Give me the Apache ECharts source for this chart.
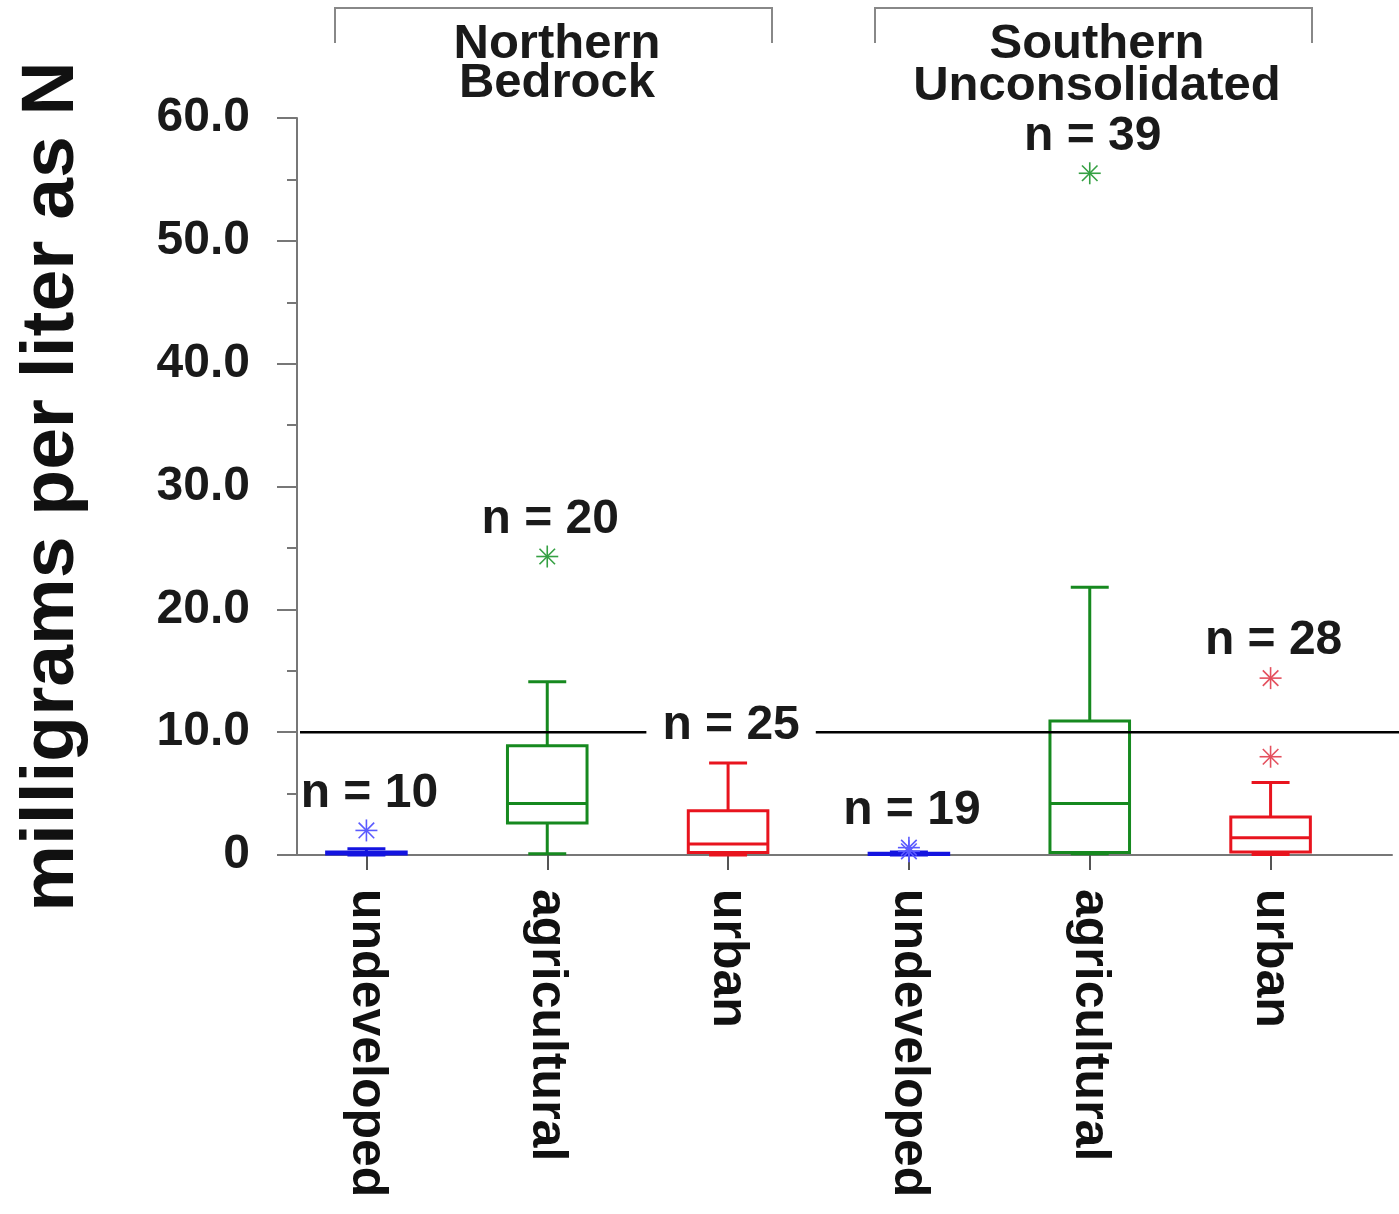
<!DOCTYPE html>
<html><head><meta charset="utf-8">
<script src="https://cdn.jsdelivr.net/npm/echarts@6/dist/echarts.min.js"></script>
<style>html,body{margin:0;padding:0;background:#fff}#c{width:1399px;height:1214px}</style>
</head><body><div id="c"></div>
<script>
// ---- data ----
const categories = ['undeveloped','agricultural','urban','undeveloped','agricultural','urban'];
const groupTitles = ['Northern\nBedrock','Southern\nUnconsolidated'];
const sampleCounts = [10, 20, 25, 19, 39, 28];
// [low whisker, Q1, median, Q3, high whisker]
const boxStats = [
  [0.0, 0.08, 0.15, 0.25, 0.5],
  [0.1, 2.6, 4.2, 8.9, 14.1],
  [0.0, 0.2, 0.9, 3.6, 7.5],
  [0.0, 0.05, 0.08, 0.15, 0.25],
  [0.1, 0.2, 4.2, 10.9, 21.8],
  [0.05, 0.25, 1.4, 3.1, 5.9]
];
// [category index, value]
const outliers = [[0, 2.0], [1, 24.3], [3, 0.3], [3, 0.6], [4, 55.5], [5, 8.0], [5, 14.4]];
const yTickValues = [0, 10, 20, 30, 40, 50, 60];
const referenceLevel = 10;

// ---- styles ----
const FONT = '"Liberation Sans", Arial, sans-serif';
const boxColors = ['#1414e0', '#16891f', '#e8141e'];
const starColors = ['#5a5aff', '#35a043', '#e4505e'];
const TOP = 118, BOTTOM = 1214 - 855;

const chart = echarts.init(document.getElementById('c'), null, {renderer: 'canvas'});

function topValue(i) {
  let t = boxStats[i][4];
  outliers.forEach(o => { if (o[0] === i && o[1] > t) t = o[1]; });
  return t;
}

const option = {
  backgroundColor: '#fff',
  animation: false,
  grid: [
    {left: 276, right: 38, top: TOP, bottom: BOTTOM},   // data grid
    {left: 297, right: 7, top: TOP, bottom: BOTTOM},    // frame grid
    {left: 300, right: 0, top: TOP, bottom: BOTTOM}     // reference line grid
  ],
  xAxis: [
    {
      gridIndex: 0, type: 'category', data: categories,
      axisLine: {show: false},
      axisTick: {show: true, alignWithLabel: true, length: 15, lineStyle: {color: '#555', width: 2}},
      axisLabel: {rotate: -90, margin: 34, color: '#111', fontFamily: FONT, fontWeight: 'bold', fontSize: 50,
                  padding: [0, 0, 14, 0]}
    },
    {
      gridIndex: 1, type: 'value', min: 0, max: 1,
      axisLine: {show: true, lineStyle: {color: '#777', width: 2}},
      axisTick: {show: false}, axisLabel: {show: false}, splitLine: {show: false}
    },
    {gridIndex: 2, type: 'value', min: 0, max: 1, show: false}
  ],
  yAxis: [
    {gridIndex: 0, type: 'value', min: 0, max: 60, show: false},
    {
      gridIndex: 1, type: 'value', min: 0, max: 60, interval: 10, z: 10,
      axisLine: {show: true, lineStyle: {color: '#777', width: 2}},
      axisTick: {show: true, length: 20, lineStyle: {color: '#777', width: 2}},
      minorTick: {show: true, splitNumber: 2, length: 10, lineStyle: {color: '#777', width: 2}},
      splitLine: {show: false},
      axisLabel: {
        margin: 47, color: '#1a1a1a', fontFamily: FONT, fontWeight: 'bold', fontSize: 48,
        padding: [8, 0, 0, 0],
        formatter: v => (yTickValues.indexOf(v) >= 0 ? (v === 0 ? '0' : v.toFixed(1)) : '')
      },
      name: 'milligrams per liter as N', nameLocation: 'middle', nameRotate: 90, nameGap: 207,
      nameTextStyle: {color: '#111', fontFamily: FONT, fontWeight: 'bold', fontSize: 75}
    },
    {gridIndex: 2, type: 'value', min: 0, max: 60, show: false}
  ],
  series: [
    {
      type: 'custom', name: 'boxes', xAxisIndex: 0, yAxisIndex: 0, z: 2,
      data: boxStats.map((s, i) => [i].concat(s)),
      encode: {x: 0, y: [1, 2, 3, 4, 5]},
      renderItem: function (params, api) {
        const i = api.value(0);
        const lo = api.value(1), q1 = api.value(2), med = api.value(3), q3 = api.value(4), hi = api.value(5);
        const cx = api.coord([i, 0])[0];
        const y = v => api.coord([i, v])[1];
        const band = api.size([1, 0])[0];
        const bw = band * 0.44, cw = band * 0.21;
        const st = {stroke: boxColors[i % 3], lineWidth: 3, fill: 'none'};
        return {
          type: 'group',
          children: [
            {type: 'line', shape: {x1: cx, y1: y(hi), x2: cx, y2: y(q3)}, style: st},
            {type: 'line', shape: {x1: cx, y1: y(lo), x2: cx, y2: y(q1)}, style: st},
            {type: 'line', shape: {x1: cx - cw / 2, y1: y(hi), x2: cx + cw / 2, y2: y(hi)}, style: st},
            {type: 'line', shape: {x1: cx - cw / 2, y1: y(lo), x2: cx + cw / 2, y2: y(lo)}, style: st},
            {type: 'rect', shape: {x: cx - bw / 2, y: y(q3), width: bw, height: Math.max(y(q1) - y(q3), 0.5)}, style: st},
            {type: 'line', shape: {x1: cx - bw / 2, y1: y(med), x2: cx + bw / 2, y2: y(med)}, style: st}
          ]
        };
      }
    },
    {
      type: 'custom', name: 'outliers', xAxisIndex: 0, yAxisIndex: 0, z: 2,
      data: outliers,
      encode: {x: 0, y: 1},
      renderItem: function (params, api) {
        const i = api.value(0);
        const p = api.coord([i, api.value(1)]);
        const r = 11, d = r * 0.7071;
        const st = {stroke: starColors[i % 3], lineWidth: 1.6};
        return {
          type: 'group',
          children: [
            {type: 'line', shape: {x1: p[0] - r, y1: p[1], x2: p[0] + r, y2: p[1]}, style: st},
            {type: 'line', shape: {x1: p[0], y1: p[1] - r, x2: p[0], y2: p[1] + r}, style: st},
            {type: 'line', shape: {x1: p[0] - d, y1: p[1] - d, x2: p[0] + d, y2: p[1] + d}, style: st},
            {type: 'line', shape: {x1: p[0] - d, y1: p[1] + d, x2: p[0] + d, y2: p[1] - d}, style: st}
          ]
        };
      }
    },
    {
      type: 'line', name: 'reference', xAxisIndex: 2, yAxisIndex: 2, z: 3, silent: true,
      data: [[0, referenceLevel], [1, referenceLevel]], symbol: 'none',
      lineStyle: {color: '#000', width: 2.5}
    },
    {
      type: 'custom', name: 'counts', xAxisIndex: 0, yAxisIndex: 0, z: 5,
      data: sampleCounts.map((n, i) => [i, topValue(i), n]),
      encode: {x: 0, y: 1},
      renderItem: function (params, api) {
        const i = api.value(0);
        const p = api.coord([i, api.value(1)]);
        return {
          type: 'text', x: p[0] + 3, y: p[1] - 37,
          style: {
            text: 'n = ' + api.value(2), fill: '#1a1a1a',
            font: 'bold 48px ' + FONT, align: 'center', verticalAlign: 'middle',
            backgroundColor: '#fff', padding: [0, 16]
          }
        };
      }
    }
  ],
  graphic: [
    {type: 'polyline', shape: {points: [[335, 43], [335, 8], [772, 8], [772, 43]]}, style: {stroke: '#888', lineWidth: 2, fill: 'none'}},
    {type: 'polyline', shape: {points: [[875, 43], [875, 8], [1312, 8], [1312, 43]]}, style: {stroke: '#888', lineWidth: 2, fill: 'none'}},
    {type: 'text', x: 557, y: 44, style: {text: groupTitles[0].split('\n')[0], font: 'bold 49px ' + FONT, fill: '#1a1a1a', align: 'center', verticalAlign: 'middle'}},
    {type: 'text', x: 557, y: 83, style: {text: groupTitles[0].split('\n')[1], font: 'bold 49px ' + FONT, fill: '#1a1a1a', align: 'center', verticalAlign: 'middle'}},
    {type: 'text', x: 1097, y: 44, style: {text: groupTitles[1].split('\n')[0], font: 'bold 49px ' + FONT, fill: '#1a1a1a', align: 'center', verticalAlign: 'middle'}},
    {type: 'text', x: 1097, y: 86, style: {text: groupTitles[1].split('\n')[1], font: 'bold 49px ' + FONT, fill: '#1a1a1a', align: 'center', verticalAlign: 'middle'}}
  ]
};
chart.setOption(option);
</script>
</body></html>
